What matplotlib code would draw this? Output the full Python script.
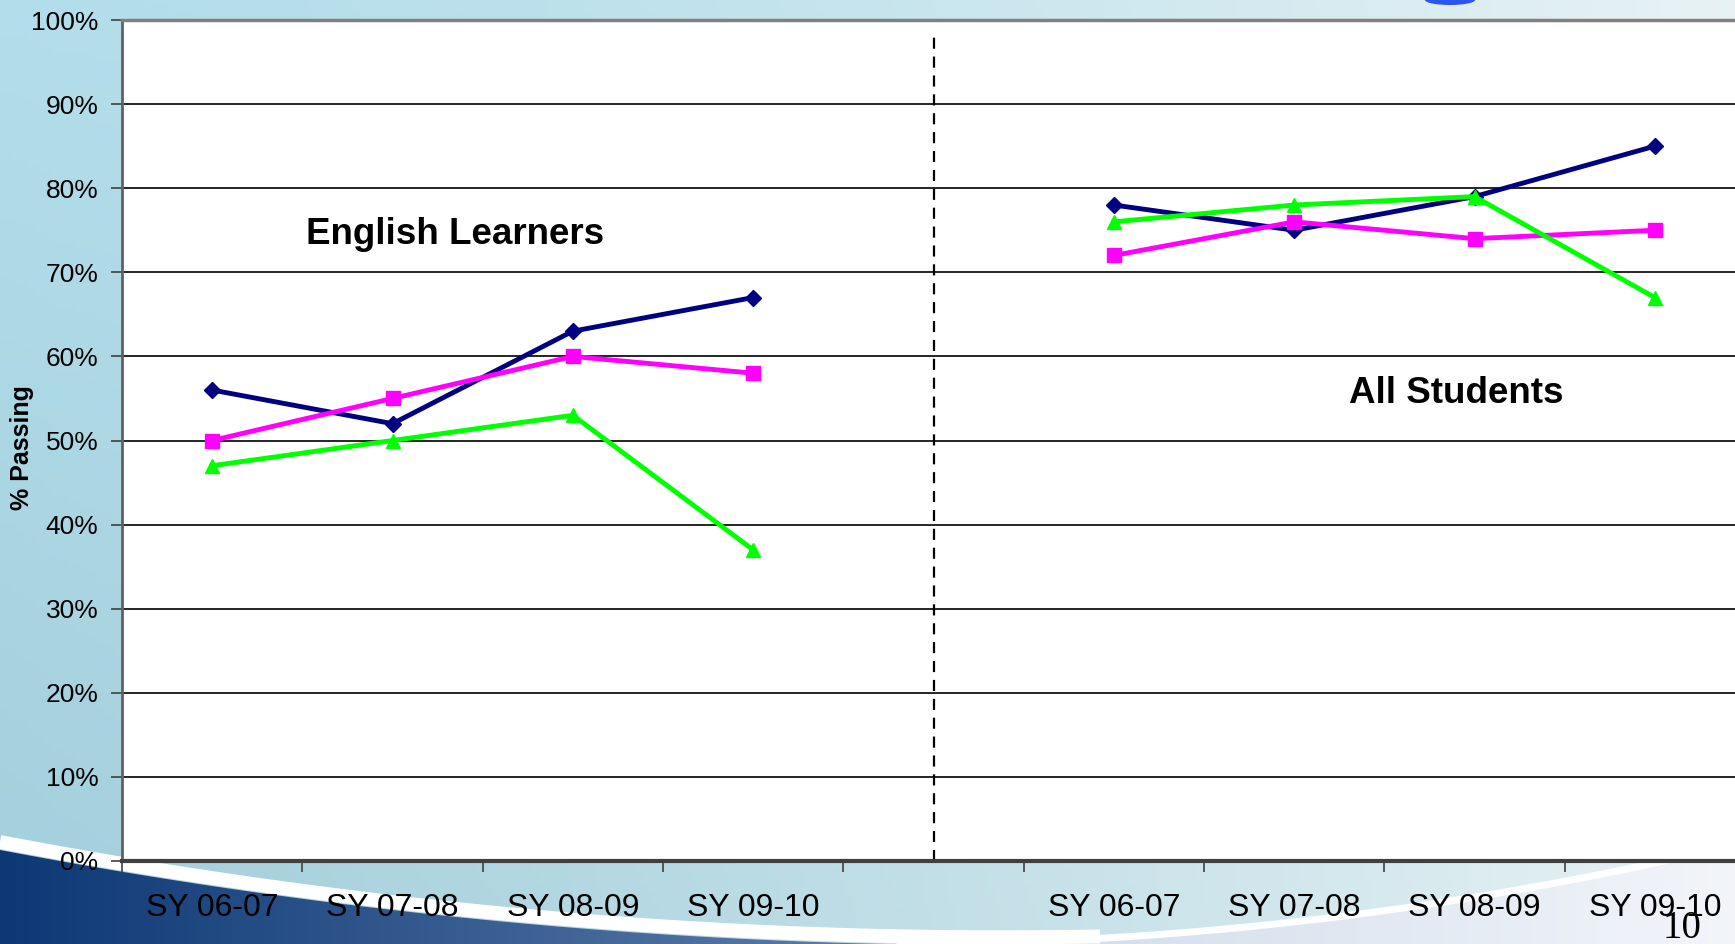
import numpy as np
import matplotlib
matplotlib.use("Agg")
import matplotlib.pyplot as plt
from matplotlib.patches import Polygon, Ellipse
from matplotlib.ticker import FixedLocator, PercentFormatter

plt.rcParams['font.family'] = ['Liberation Sans', 'DejaVu Sans']

# data
categories = ['SY 06-07', 'SY 07-08', 'SY 08-09', 'SY 09-10', '',
              'SY 06-07', 'SY 07-08', 'SY 08-09', 'SY 09-10']
el_x = [0, 1, 2, 3]
all_x = [5, 6, 7, 8]
el_navy = [56, 52, 63, 67]
el_pink = [50, 55, 60, 58]
el_green = [47, 50, 53, 37]
all_navy = [78, 75, 79, 85]
all_pink = [72, 76, 74, 75]
all_green = [76, 78, 79, 67]
yticks = list(range(0, 101, 10))

W, H = 1735, 944
fig = plt.figure(figsize=(W / 100, H / 100), dpi=100)

# slide background
bg = fig.add_axes([0, 0, 1, 1])
bg.set_xlim(0, W)
bg.set_ylim(H, 0)
bg.axis('off')
xx, yy = np.meshgrid(np.linspace(0, 1, 300), np.linspace(0, 1, 160))
left = np.array([0.64, 0.81, 0.86])
right = np.array([0.91, 0.95, 0.96])
t = xx ** 1.3
img = left[None, None, :] * (1 - t[..., None]) + right[None, None, :] * t[..., None]
img = img + (0.06 * (1 - yy) * (1 - xx))[..., None]
bg.imshow(np.clip(img, 0, 1), extent=[0, W, H, 0], aspect='auto', zorder=0)

# swoosh at the bottom: dark blue wedge with gradient
sx = np.linspace(0, 1100, 80)
sy = 850 + 0.19 * sx - 0.0000947 * sx ** 2
dark = Polygon(np.column_stack([np.r_[sx, 1100, 0], np.r_[sy, H + 5, H + 5]]),
               closed=True, facecolor='none', edgecolor='none')
bg.add_patch(dark)
gx = np.linspace(0, 1, 200)[None, :]
c0 = np.array([0.05, 0.22, 0.46])
c1 = np.array([0.45, 0.56, 0.72])
grad = c0[None, None, :] * (1 - gx[..., None]) + c1[None, None, :] * gx[..., None]
im = bg.imshow(np.repeat(grad, 4, axis=0), extent=[0, 1100, H, 820], aspect='auto', zorder=1)
im.set_clip_path(dark)
bg.plot(sx, sy - 8, color='white', lw=10, solid_capstyle='butt', zorder=2)

rx = np.linspace(900, W, 60)
ry = 944 - 0.000142 * (rx - 900) ** 2
light = Polygon(np.column_stack([np.r_[rx, W, 900], np.r_[ry, H + 5, H + 5]]),
                closed=True, facecolor='none', edgecolor='none')
bg.add_patch(light)
lg = np.array([0.80, 0.85, 0.91])[None, None, :] * (1 - gx[..., None]) + \
     np.array([0.95, 0.96, 0.98])[None, None, :] * gx[..., None]
im2 = bg.imshow(np.repeat(lg, 4, axis=0), extent=[900, W, H, 820], aspect='auto', zorder=1)
im2.set_clip_path(light)
bg.plot(rx, ry, color='white', lw=5, zorder=2)
bg.add_patch(Ellipse((1450, 0), 50, 10, facecolor='#2a55f0', edgecolor='none', zorder=2))

# chart
ax = fig.add_axes([122 / W, 1 - 861 / H, 1623 / W, 841 / H])
ax.set_facecolor('white')
ax.set_xlim(-0.5, 8.5)
ax.set_ylim(0, 100)

for v in yticks[1:-1]:
    ax.axhline(v, color='black', lw=1.2, zorder=1)
ax.vlines(4, 0, 98.5, colors='black', linestyles=(0, (5, 3.5)), lw=1.6, zorder=1)

for xs, n, p, g in [(el_x, el_navy, el_pink, el_green), (all_x, all_navy, all_pink, all_green)]:
    ax.plot(xs, n, color='#000080', marker='D', markersize=8.5, lw=3.5, zorder=3)
    ax.plot(xs, p, color='#ff00ff', marker='s', markersize=9.5, lw=3.5, zorder=3)
    ax.plot(xs, g, color='#00ff00', marker='^', markersize=10, lw=3.5, zorder=3)

ax.text(1.345, 74.5, 'English Learners', fontsize=26.5, fontweight='bold', ha='center', va='center')
ax.text(6.9, 55.6, 'All Students', fontsize=26.5, fontweight='bold', ha='center', va='center')

ax.spines['right'].set_visible(False)
ax.spines['top'].set_color('#808080')
ax.spines['top'].set_linewidth(2.5)
ax.spines['bottom'].set_color('#404040')
ax.spines['bottom'].set_linewidth(3)
ax.spines['left'].set_color('#606060')
ax.spines['left'].set_linewidth(2)

ax.set_yticks(yticks)
ax.yaxis.set_major_formatter(PercentFormatter(decimals=0))
ax.tick_params(axis='y', direction='out', length=8, width=1.2, color='#404040',
               labelsize=19, pad=9)
ax.set_xticks(range(len(categories)))
ax.set_xticklabels(categories)
ax.xaxis.set_minor_locator(FixedLocator(np.arange(-0.5, 9, 1.0)))
ax.tick_params(axis='x', which='major', length=0, labelsize=23, pad=23)
ax.tick_params(axis='x', which='minor', direction='out', length=8, width=1.2, color='#404040')

fig.text(22 / W, 1 - 448 / H, '% Passing', rotation=90, fontsize=18, fontweight='bold',
         ha='center', va='center')
fig.text(1682 / W, 1 - 929 / H, '10', fontsize=28, family='Liberation Serif',
         ha='center', va='center')

fig.savefig('out.png', dpi=100)
